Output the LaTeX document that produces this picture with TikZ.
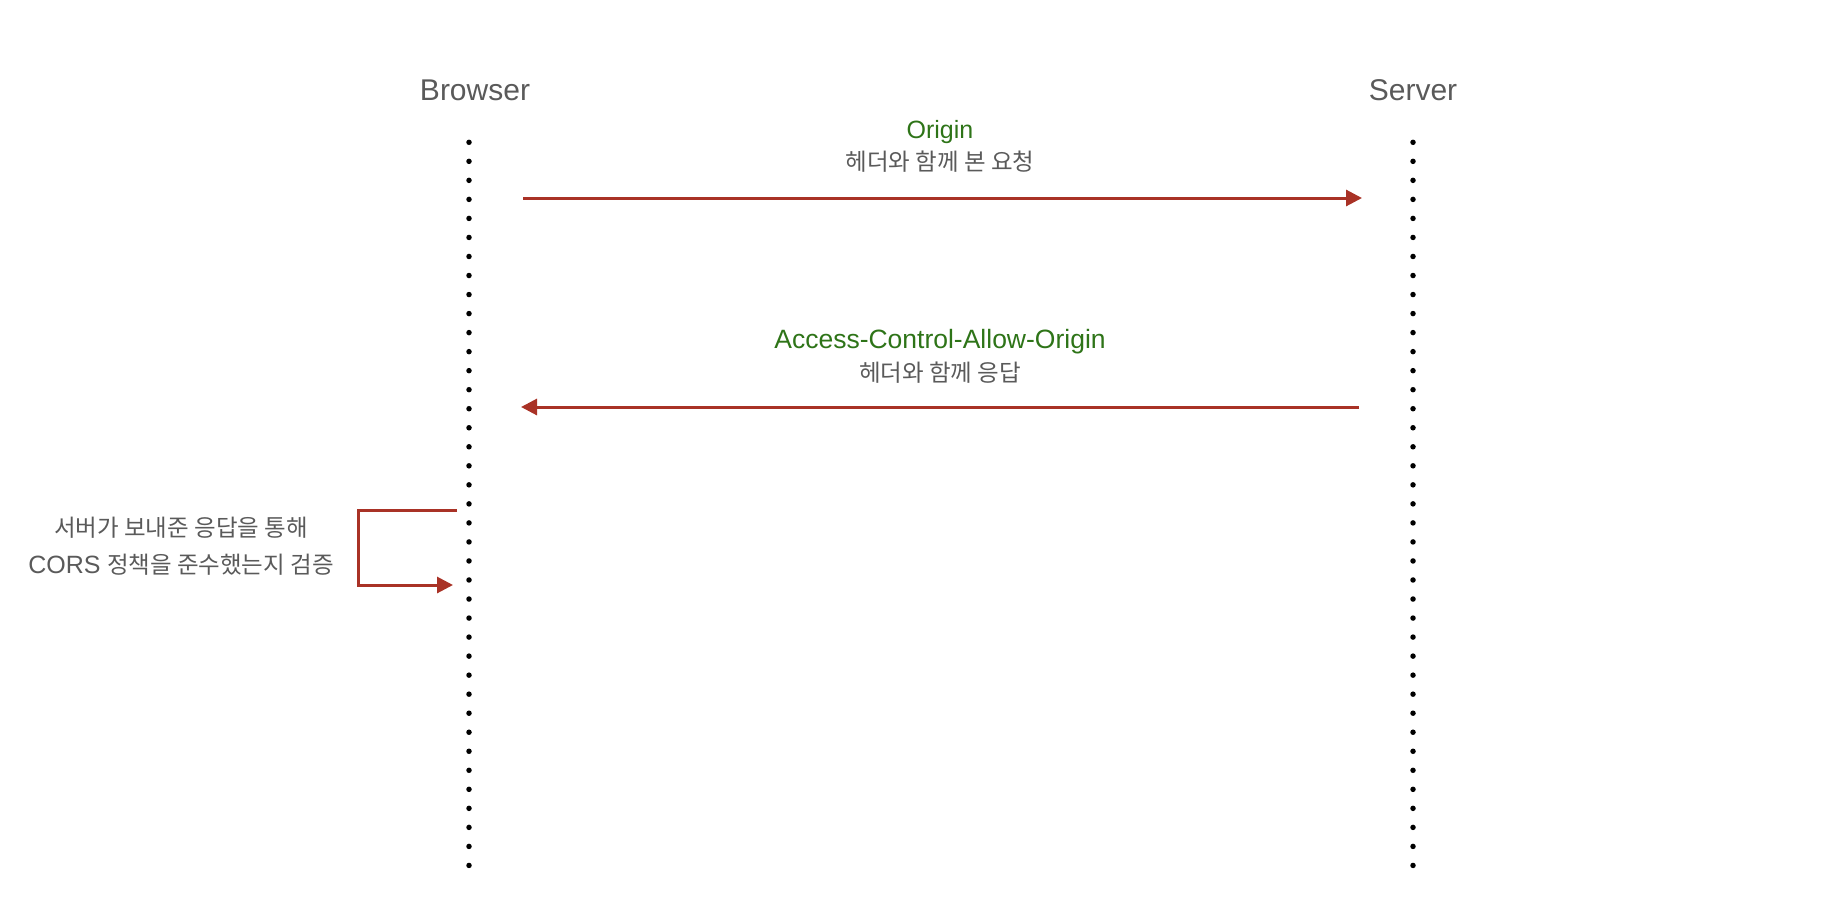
\documentclass[tikz,border=0pt]{standalone}
\usepackage{fontspec}
\setmainfont{Liberation Sans}
\newfontfamily\kr{Noto Sans CJK KR}
\usetikzlibrary{arrows.meta}
\definecolor{lbl}{HTML}{5A5A5A}
\definecolor{grn}{HTML}{2E7418}
\definecolor{arr}{HTML}{A93226}
\tikzset{
  actor/.style={text=lbl, font=\fontsize{30}{34}\selectfont, inner sep=0pt},
  msg/.style={text=lbl, font=\fontsize{23.5}{28}\selectfont, inner sep=0pt, align=center},
  hdr/.style={text=grn, font=\fontsize{25}{28}\selectfont, inner sep=0pt},
  lifeline/.style={line width=5.5pt, line cap=round, dash pattern=on 0pt off 19.03pt, black},
  call/.style={draw=arr, line width=3pt, -{Triangle[length=16pt,width=16pt]}},
}
\begin{document}
\begin{tikzpicture}[x=1pt,y=-1pt]
\useasboundingbox (0,0) rectangle (1834,908);
% actors
\node[actor] (browser) at (475,90) {Browser};
\node[actor] (server) at (1413,90) {Server};
% lifelines
\coordinate (bt) at (469,142.3);
\coordinate (bb) at (469,865.5);
\coordinate (st) at (1413,142.3);
\coordinate (sb) at (1413,865.5);
\draw[lifeline] (bt) -- (bb);
\draw[lifeline] (st) -- (sb);
% request
\node[hdr] (h1) at (940,132) {Origin};
\node[msg] (m1) at (940,162) {\kr 헤더와 함께 본 요청};
\coordinate (r1s) at (523,198);
\coordinate (r1e) at (1362,198);
\draw[call] (r1s) -- (r1e);
% response
\node[hdr, font=\fontsize{26.5}{28}\selectfont] (h2) at (940,342) {Access-Control-Allow-Origin};
\node[msg] (m2) at (940,373) {\kr 헤더와 함께 응답};
\coordinate (r2s) at (1359,407);
\coordinate (r2e) at (521,407);
\draw[call] (r2s) -- (r2e);
% self check
\coordinate (c1) at (457,510);
\coordinate (c2) at (358,510);
\coordinate (c3) at (358,585);
\coordinate (c4) at (453,585);
\draw[call] (c1) -- (c2) -- (c3) -- (c4);
\node[msg] (n1) at (181,528) {\kr 서버가 보내준 응답을 통해};
\node[msg] (n2) at (181,565) {{\fontsize{25}{28}\selectfont CORS} {\kr 정책을 준수했는지 검증}};
\end{tikzpicture}
\end{document}
